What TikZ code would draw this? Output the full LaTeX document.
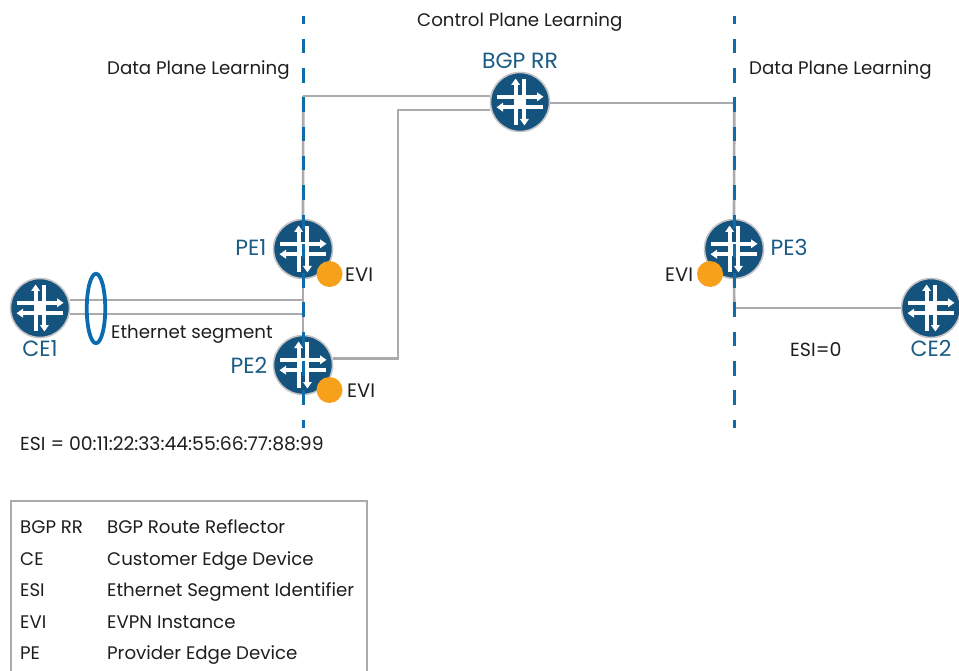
\documentclass[tikz,border=0pt]{standalone}
\usepackage{fontspec}
\setmainfont{Poppins}
\definecolor{rblue}{HTML}{15537F}
\definecolor{lblue}{HTML}{1A5C85}
\definecolor{dashblue}{HTML}{0F6CA8}
\definecolor{ringblue}{HTML}{0A6BAE}
\definecolor{lgray}{HTML}{ABABAE}
\definecolor{evi}{HTML}{F7A11A}
\definecolor{txt}{HTML}{1E1E1E}
\usetikzlibrary{arrows.meta,shapes.geometric}
\tikzset{
  routerbody/.style={circle,draw=lgray!70,line width=1.6pt,fill=rblue,minimum size=59pt,inner sep=0pt},
  wire/.style={draw=lgray,line width=2.6pt},
  vdash/.style={draw=dashblue,line width=2.8pt,dash pattern=on 14.5pt off 14.8pt,dash phase=6.5pt},
  evidot/.style={circle,fill=evi,minimum size=26pt,inner sep=0pt},
  lab/.style={text=txt,font=\fontsize{18.2}{20}\selectfont,inner sep=0pt,anchor=base west},
  evilab/.style={lab,font=\fontsize{19.5}{20}\selectfont},
  devlab/.style={text=lblue,font=\fontsize{22}{23}\selectfont,inner sep=0pt,anchor=base},
  wa/.style={white,line width=4pt,-{Triangle[width=8.5pt,length=6.5pt]}},
  pics/routericon/.style={code={
    \draw[wa] (-4.4,23)--(-4.4,-23.5);
    \draw[wa] (4.4,-23)--(4.4,23.5);
    \draw[wa] (-23,-5.2)--(23.5,-5.2);
    \draw[wa] (23,5.2)--(-23.5,5.2);
    \fill[white] (-6.4,-7.2) rectangle (6.4,7.2);
  }}
}
\begin{document}
\begin{tikzpicture}[x=1pt,y=-1pt]
\useasboundingbox (0,0) rectangle (959,671);
% dashed verticals
\coordinate (dlt) at (303.3,16); \coordinate (dlb) at (303.3,428);
\coordinate (drt) at (734.3,16); \coordinate (drb) at (734.3,428);
% device nodes
\node[routerbody] (rr) at (520,102) {};
\node[routerbody] (pe1) at (303,249) {};
\node[routerbody] (pe2) at (303,365) {};
\node[routerbody] (pe3) at (734,249) {};
\node[routerbody] (ce1) at (40,308) {};
\node[routerbody] (ce2) at (931,308) {};
% wires
\coordinate (a1) at (303.3,96); \coordinate (a2) at (734.3,103);
\coordinate (b1) at (398,110); \coordinate (b2) at (398,358.5);
\coordinate (c1) at (303.3,300); \coordinate (c2) at (303.3,314);
\coordinate (c3) at (734.3,308);
\draw[wire] (a1) -- (rr.west |- a1);
\draw[wire] (rr.east |- a2) -- (a2);
\draw[wire] (rr.west |- b1) -- (b1) -- (b2) -- (pe2.east |- b2);
\draw[wire] (ce1.east |- c1) -- (c1);
\draw[wire] (ce1.east |- c2) -- (c2);
\draw[wire] (c3) -- (ce2.west |- c3);
\draw[wire] (a1) -- (pe1.north);
\draw[wire] (pe1.south) -- (pe2.north);
\draw[wire] (a2) -- (pe3.north);
\draw[wire] (pe3.south) -- (c3);
% icons
\foreach \n in {rr,pe1,pe2,pe3,ce1,ce2}{ \path (\n.center) pic {routericon}; }
% dashed lines over everything
\draw[vdash] (dlt) -- (dlb);
\draw[vdash] (drt) -- (drb);
% Ethernet segment ring
\node[ellipse,draw=ringblue,line width=3.8pt,minimum width=18.5pt,minimum height=69.5pt,inner sep=0pt] (ring) at (96,308.5) {};
% EVI dots
\node[evidot] (e1) at (329.5,274) {};
\node[evidot] (e2) at (329.5,390) {};
\node[evidot] (e3) at (710,274) {};
% labels
\node[lab] (t1) at (417,27) {Control Plane Learning};
\node[lab] (t2) at (107,74.5) {Data Plane Learning};
\node[lab] (t3) at (749,74.5) {Data Plane Learning};
\node[devlab] (l1) at (520,68.5) {BGP RR};
\node[devlab] (l2) at (251,255.5) {PE1};
\node[devlab] (l3) at (249,373.5) {PE2};
\node[devlab] (l4) at (789,255.5) {PE3};
\node[devlab] (l5) at (40,356.5) {CE1};
\node[devlab] (l6) at (931,356.5) {CE2};
\node[evilab] (t4) at (345,281.5) {EVI};
\node[evilab] (t5) at (347,397.5) {EVI};
\node[evilab] (t6) at (665,281.5) {EVI};
\node[lab] (t7) at (111,338) {Ethernet segment};
\node[lab,font=\fontsize{19}{20}\selectfont] (t8) at (790,356) {ESI=0};
\node[lab,font=\fontsize{18.8}{20}\selectfont] (t9) at (20,450) {ESI = 00:11:22:33:44:55:66:77:88:99};
% legend
\coordinate (la) at (11,671); \coordinate (lb) at (11,501); \coordinate (lc) at (367,501); \coordinate (ld) at (367,671);
\draw[draw=lgray,line width=2.6pt] (la) -- (lb) -- (lc) -- (ld);
\node[lab] (k1) at (20,533.5) {BGP RR};
\node[lab] (v1) at (107,533.5) {BGP Route Reflector};
\node[lab] (k2) at (20,565) {CE};
\node[lab] (v2) at (107,565) {Customer Edge Device};
\node[lab] (k3) at (20,596.5) {ESI};
\node[lab] (v3) at (107,596.5) {Ethernet Segment Identifier};
\node[lab] (k4) at (20,628) {EVI};
\node[lab] (v4) at (107,628) {EVPN Instance};
\node[lab] (k5) at (20,659) {PE};
\node[lab] (v5) at (107,659) {Provider Edge Device};
\end{tikzpicture}
\end{document}
